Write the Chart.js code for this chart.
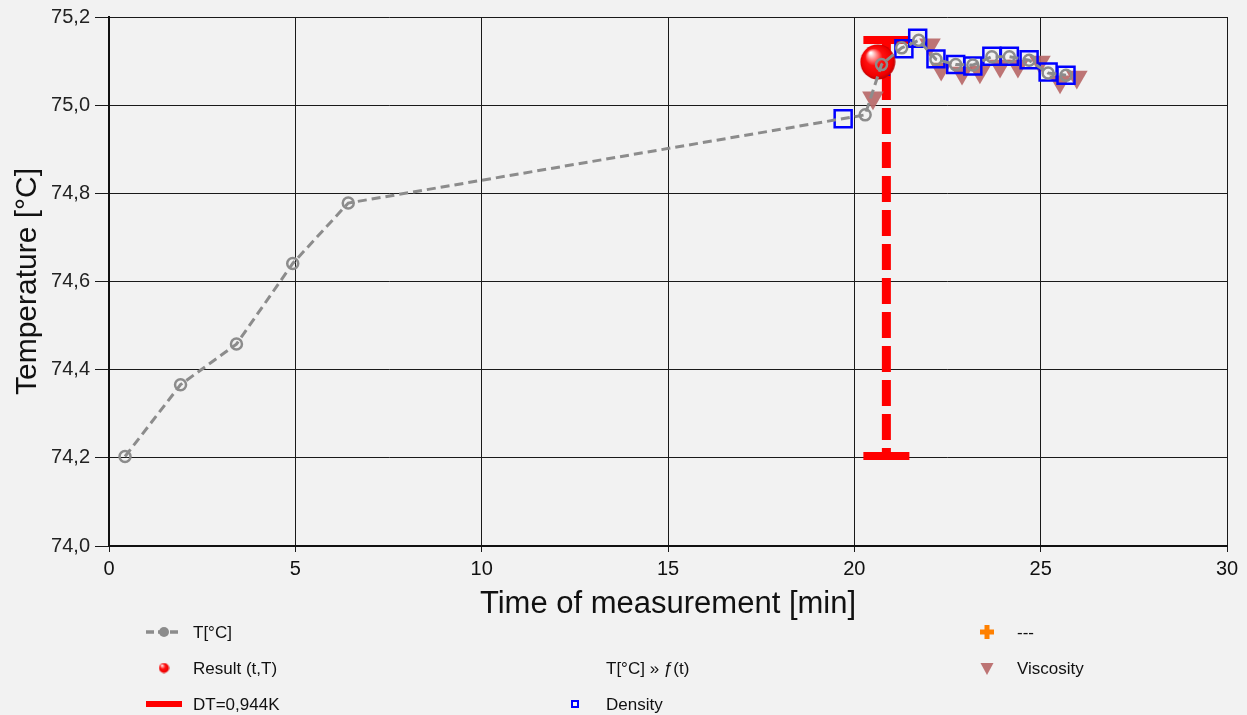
<!DOCTYPE html>
<html>
<head>
<meta charset="utf-8">
<script src="https://cdn.jsdelivr.net/npm/chart.js@4.4.1/dist/chart.umd.min.js"></script>
<style>
  html, body { margin: 0; padding: 0; background: #f2f2f2; }
  #wrap { width: 1247px; height: 715px; }
</style>
</head>
<body>
<div id="wrap"><canvas id="grafico" width="1247" height="715"></canvas></div>
<script>
// temperature series
const t_time = [0.43, 1.92, 3.42, 4.93, 6.42, 20.29, 20.73, 21.27, 21.73, 22.19, 22.72, 23.18, 23.69, 24.16, 24.69, 25.20, 25.68];
const t_temp = [74.203, 74.366, 74.458, 74.641, 74.778, 74.978, 75.092, 75.130, 75.147, 75.104, 75.092, 75.091, 75.110, 75.110, 75.102, 75.073, 75.068];

const dens_time = [19.70, 20.70, 21.33, 21.70, 22.19, 22.72, 23.18, 23.69, 24.16, 24.69, 25.20, 25.68];
const dens_temp = [74.969, 75.088, 75.128, 75.152, 75.105, 75.092, 75.089, 75.111, 75.111, 75.103, 75.075, 75.068];

const visc_time = [20.50, 22.03, 22.33, 22.89, 23.37, 23.91, 24.39, 24.98, 25.52, 25.97];
const visc_temp = [75.017, 75.137, 75.082, 75.073, 75.076, 75.089, 75.089, 75.098, 75.053, 75.064];

const result_time = [20.63];
const result_temp = [75.098];

const dt_time = [20.86, 20.86];
const dt_temp = [75.148, 74.204];

const y_ticks = [74.0, 74.2, 74.4, 74.6, 74.8, 75.0, 75.2];
const x_ticks = [0, 5, 10, 15, 20, 25, 30];

const labels = {
  t: "T[°C]",
  result: "Result (t,T)",
  dt: "DT=0,944K",
  fit: "T[°C] » ƒ(t)",
  dens: "Density",
  plus: "---",
  visc: "Viscosity"
};

const SANS = "'Liberation Sans', Arial, sans-serif";

function toPoints(xs, ys) {
  return xs.map((x, i) => ({ x: x, y: ys[i] }));
}

function makeBall(r) {
  const c = document.createElement("canvas");
  c.width = c.height = Math.ceil(r * 2);
  const g = c.getContext("2d");
  const grad = g.createRadialGradient(r * 0.6, r * 0.5, r * 0.05, r, r, r);
  grad.addColorStop(0, "#ffffff");
  grad.addColorStop(0.2, "#ff9090");
  grad.addColorStop(0.45, "#ff1010");
  grad.addColorStop(0.85, "#f00000");
  grad.addColorStop(1, "#b40000");
  g.fillStyle = grad;
  g.beginPath();
  g.arc(r, r, r - 0.5, 0, Math.PI * 2);
  g.fill();
  return c;
}

const bigBall = makeBall(18);
const smallBall = makeBall(5.5);

const grey = "#8c8c8c";
const viscColor = "rgba(185,105,105,0.92)";

// legend grid: [col, row] for each dataset index
const legendSlots = [[0, 0], [0, 1], [0, 2], [1, 1], [1, 2], [2, 0], [2, 1]];
const legendCols = [164, 575, 987];
const legendTextX = [193, 606, 1017];
const legendRows = [632, 668, 704];

function drawLegendMarker(ctx, kind, x, y) {
  ctx.save();
  if (kind === "t") {
    ctx.strokeStyle = grey;
    ctx.lineWidth = 3.5;
    ctx.setLineDash([8, 4]);
    ctx.beginPath();
    ctx.moveTo(x - 18, y);
    ctx.lineTo(x + 18, y);
    ctx.stroke();
    ctx.setLineDash([]);
    ctx.fillStyle = grey;
    ctx.beginPath();
    ctx.arc(x, y, 5, 0, Math.PI * 2);
    ctx.fill();
  } else if (kind === "result") {
    ctx.drawImage(smallBall, x - 5.5, y - 5.5);
  } else if (kind === "dt") {
    ctx.fillStyle = "#ff0000";
    ctx.fillRect(x - 18, y - 3, 36, 6);
  } else if (kind === "dens") {
    ctx.strokeStyle = "#0000ff";
    ctx.lineWidth = 2;
    ctx.strokeRect(x - 3, y - 3, 6, 6);
  } else if (kind === "plus") {
    ctx.fillStyle = "#ff8000";
    ctx.fillRect(x - 7, y - 2.5, 14, 5);
    ctx.fillRect(x - 2.5, y - 7, 5, 14);
  } else if (kind === "visc") {
    ctx.fillStyle = viscColor;
    ctx.beginPath();
    ctx.moveTo(x - 6.5, y - 5);
    ctx.lineTo(x + 6.5, y - 5);
    ctx.lineTo(x, y + 7);
    ctx.closePath();
    ctx.fill();
  }
  ctx.restore();
}

const gridLegend = {
  id: "gridLegend",
  afterDraw(chart) {
    const ctx = chart.ctx;
    chart.data.datasets.forEach((ds, i) => {
      const slot = legendSlots[i];
      const y = legendRows[slot[1]];
      drawLegendMarker(ctx, ds.kind, legendCols[slot[0]], y);
      ctx.save();
      ctx.fillStyle = "#111";
      ctx.font = "17px " + SANS;
      ctx.textBaseline = "middle";
      ctx.fillText(ds.label, legendTextX[slot[0]], y + 1);
      ctx.restore();
    });
  }
};

const datasets = [
  {
    kind: "t",
    label: labels.t,
    data: toPoints(t_time, t_temp),
    showLine: true,
    borderColor: grey,
    borderWidth: 3,
    borderDash: [9, 5],
    pointStyle: "circle",
    pointRadius: 5.5,
    pointBorderWidth: 2.5,
    pointBorderColor: grey,
    pointBackgroundColor: "rgba(0,0,0,0)",
    order: 0
  },
  {
    kind: "result",
    label: labels.result,
    data: toPoints(result_time, result_temp),
    pointStyle: bigBall,
    pointRadius: 18,
    order: 1
  },
  {
    kind: "dt",
    label: labels.dt,
    data: toPoints(dt_time, dt_temp),
    showLine: true,
    borderColor: "#ff0000",
    borderWidth: 9,
    borderDash: [26, 8],
    pointStyle: "line",
    pointRadius: 23,
    pointBorderWidth: 8,
    pointBorderColor: "#ff0000",
    order: 4
  },
  {
    kind: "fit",
    label: labels.fit,
    data: [],
    order: 6
  },
  {
    kind: "dens",
    label: labels.dens,
    data: toPoints(dens_time, dens_temp),
    pointStyle: "rect",
    pointRadius: 12,
    pointBorderWidth: 2.5,
    pointBorderColor: "#0000ff",
    pointBackgroundColor: "rgba(0,0,0,0)",
    order: 2
  },
  {
    kind: "plus",
    label: labels.plus,
    data: [],
    order: 6
  },
  {
    kind: "visc",
    label: labels.visc,
    data: toPoints(visc_time, visc_temp),
    pointStyle: "triangle",
    rotation: 180,
    pointRadius: 12.5,
    pointBorderWidth: 0,
    pointBackgroundColor: viscColor,
    order: 3
  }
];

const grafico = document.querySelector("#grafico");

const mi_grafico = new Chart(grafico, {
  type: "scatter",
  data: { datasets: datasets },
  plugins: [gridLegend],
  options: {
    responsive: false,
    animation: false,
    layout: { autoPadding: false, padding: { top: 15, right: 20, left: 0, bottom: 89 } },
    plugins: {
      legend: { display: false },
      tooltip: { enabled: false }
    },
    scales: {
      x: {
        type: "linear",
        min: 0,
        max: 30,
        afterFit: (scale) => { scale.height = 80; },
        afterBuildTicks: (scale) => { scale.ticks = x_ticks.map((v) => ({ value: v })); },
        ticks: {
          color: "#111",
          font: { family: SANS, size: 20 },
          padding: 5,
          maxRotation: 0
        },
        grid: { color: "#1a1a1a", lineWidth: 1, tickLength: 6 },
        border: { color: "#111", width: 2 },
        title: {
          display: true,
          text: "Time of measurement [min]",
          color: "#111",
          font: { family: SANS, size: 31 },
          padding: { top: 0, bottom: 3 }
        }
      },
      y: {
        type: "linear",
        min: 74.0,
        max: 75.2,
        afterFit: (scale) => { scale.width = 109; },
        afterBuildTicks: (scale) => { scale.ticks = y_ticks.map((v) => ({ value: v })); },
        ticks: {
          color: "#222",
          font: { family: SANS, size: 20 },
          padding: 5,
          callback: (v) => v.toFixed(1).replace(".", ",")
        },
        grid: { color: "#1a1a1a", lineWidth: 1, tickLength: 14 },
        border: { color: "#111", width: 2 },
        title: {
          display: true,
          text: "Temperature [°C]",
          color: "#111",
          font: { family: SANS, size: 30 },
          padding: { top: 10, bottom: 0 }
        }
      }
    }
  }
});
</script>
</body>
</html>
